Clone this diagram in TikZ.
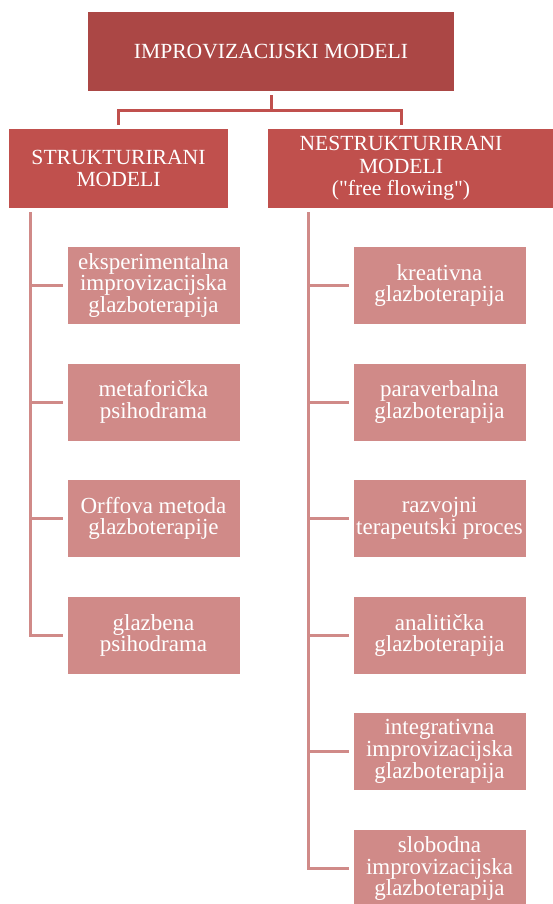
\documentclass[tikz,border=0pt]{standalone}
\usepackage{fontspec}
\setmainfont{Liberation Serif}
\usetikzlibrary{positioning}

\definecolor{darkred}{HTML}{AB4745}
\definecolor{midred}{HTML}{C0504D}
\definecolor{lightred}{HTML}{D08A88}

\begin{document}
\begin{tikzpicture} [x=1pt,y=-1pt,
	box/.style={text=white,align=center,inner sep=2pt},
	topbox/.style={box,fill=darkred,minimum width=366pt,minimum height=79pt,font=\fontsize{21.6}{22.5}\selectfont},
	groupbox/.style={box,fill=midred,minimum height=79pt,font=\fontsize{21.6}{22.5}\selectfont},
	leafbox/.style={box,fill=lightred,minimum width=172pt,minimum height=77pt,font=\fontsize{23}{21.7}\selectfont},
	trunk/.style={draw=midred,line width=3pt,shorten <=4pt,shorten >=4pt},
	branch/.style={draw=lightred,line width=3pt,shorten <=4pt,shorten >=4pt}]

\useasboundingbox (0,0) rectangle (553,904);

\node[topbox] (top) at (271,51.5) {IMPROVIZACIJSKI MODELI};
\node[groupbox,minimum width=219pt] (str) at (118.5,168.5) {STRUKTURIRANI\\MODELI};
\node[groupbox,minimum width=266pt] (nstr) at (401,168.5) {NESTRUKTURIRANI\\MODELI\\(\textquotedbl free flowing\textquotedbl)};
\fill[midred] ([xshift=-0.5pt]nstr.north east) rectangle (553,208);

\node[leafbox] (l1) at (153.5,285.5) {eksperimentalna\\improvizacijska\\glazboterapija};
\node[leafbox] (l2) at (153.5,402) {metaforička\\psihodrama};
\node[leafbox] (l3) at (153.5,518.5) {Orffova metoda\\glazboterapije};
\node[leafbox] (l4) at (153.5,635.5) {glazbena\\psihodrama};

\node[leafbox] (r1) at (439.5,285.5) {kreativna\\glazboterapija};
\node[leafbox] (r2) at (439.5,402) {paraverbalna\\glazboterapija};
\node[leafbox] (r3) at (439.5,518.5) {razvojni\\terapeutski proces};
\node[leafbox] (r4) at (439.5,635.5) {analitička\\glazboterapija};
\node[leafbox] (r5) at (439.5,751.5) {integrativna\\improvizacijska\\glazboterapija};
\node[leafbox] (r6) at (439.5,868.5) {slobodna\\improvizacijska\\glazboterapija};

\foreach \g in {str,nstr}
	\draw[trunk] (top.south) -- ++(0,19) -| (\g.north);

\foreach \x in {1,...,4}
	\draw[branch] ([xshift=22pt]str.south west) |- (l\x.west);
\foreach \x in {1,...,6}
	\draw[branch] ([xshift=41pt]nstr.south west) |- (r\x.west);

\end{tikzpicture}
\end{document}
